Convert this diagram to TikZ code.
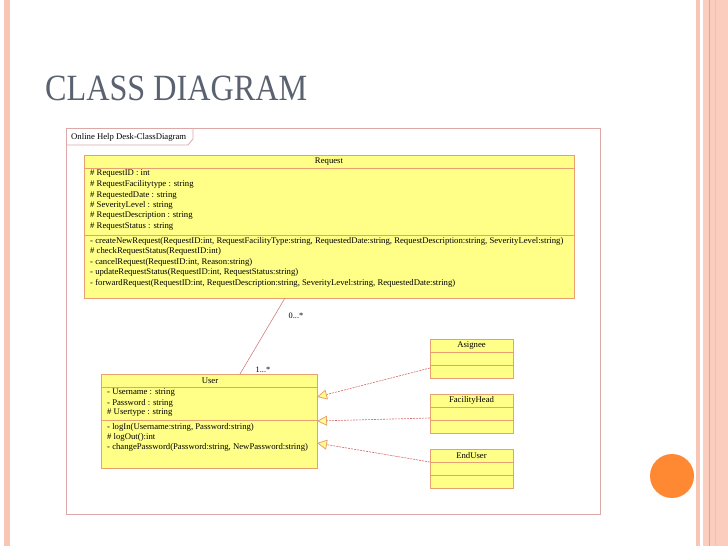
\documentclass[tikz,border=0pt]{standalone}
\usepackage{fontspec}
\setmainfont{Liberation Serif}
\usetikzlibrary{arrows.meta}
\definecolor{umlfill}{HTML}{FFFF88}
\definecolor{umlline}{HTML}{E8A070}
\definecolor{framec}{HTML}{DDA8A8}
\definecolor{assoc}{HTML}{D08080}
\definecolor{dashc}{HTML}{D86868}
\definecolor{stripe}{HTML}{F9C6B6}
\definecolor{stripeb}{HTML}{FBCDBF}
\definecolor{stripeo}{HTML}{F0A080}
\definecolor{titlec}{HTML}{5A6270}
\definecolor{dotc}{HTML}{FF8833}
\tikzset{
  umlbox/.style={draw=umlline, fill=umlfill, line width=0.9pt},
  sep/.style={draw=umlline, line width=0.9pt},
  txt/.style={anchor=west, inner sep=0pt, font=\fontsize{8.7}{9}\selectfont},
  ctxt/.style={anchor=center, inner sep=0pt, font=\fontsize{8.7}{9}\selectfont},
  realize/.style={draw=dashc, dashed, dash pattern=on 2pt off 1pt, line width=0.6pt,
    -{Triangle[open, fill=umlfill, color=umlline, length=10pt, width=10pt, line width=0.8pt]}},
}
\begin{document}
\begin{tikzpicture}[x=1pt,y=-1pt]
\useasboundingbox (0,0) rectangle (728,546);
\fill[white] (0,0) rectangle (728,546);
% stripes
\fill[stripe] (4,0) rectangle (9.5,546);
\fill[stripe] (696,0) rectangle (699.5,546);
\fill[stripeb] (702.5,0) rectangle (728,546);
\fill[stripeo] (708.5,0) rectangle (709.8,546);
\fill[stripe!90!orange] (714.5,0) rectangle (716,546);
% title
\node[anchor=base west, inner sep=0pt, text=titlec, font=\fontsize{37}{40}\selectfont, xscale=0.87] (title) at (45,100) {CLASS DIAGRAM};
% frame
\draw[framec, line width=0.8pt] (66,128) rectangle (600,514);
\draw[framec, line width=0.8pt] (193,128) -- (193,139) -- (188,145) -- (66,145);
\node[anchor=west, inner sep=0pt, font=\fontsize{8.7}{9}\selectfont] (tab) at (71,137) {Online Help Desk-ClassDiagram};
% Request
\draw[umlbox] (84,155) rectangle (574,298);
\coordinate (reqS) at (285,298);
\draw[sep] (84,168) -- (574,168);
\draw[sep] (84,235) -- (574,235);
\node[ctxt] (reqT) at (329,161.5) {Request};
\node[txt] (ra1) at (90,174) {\# RequestID : int};
\node[txt] (ra2) at (90,184.5) {\# RequestFacilitytype : string};
\node[txt] (ra3) at (90,195) {\# RequestedDate : string};
\node[txt] (ra4) at (90,205.5) {\# SeverityLevel : string};
\node[txt] (ra5) at (90,216) {\# RequestDescription : string};
\node[txt] (ra6) at (90,226.5) {\# RequestStatus : string};
\node[txt] (rm1) at (90,241) {- createNewRequest(RequestID:int, RequestFacilityType:string, RequestedDate:string, RequestDescription:string, SeverityLevel:string)};
\node[txt] (rm2) at (90,251.5) {\# checkRequestStatus(RequestID:int)};
\node[txt] (rm3) at (90,262) {- cancelRequest(RequestID:int, Reason:string)};
\node[txt] (rm4) at (90,272.5) {- updateRequestStatus(RequestID:int, RequestStatus:string)};
\node[txt] (rm5) at (90,283) {- forwardRequest(RequestID:int, RequestDescription:string, SeverityLevel:string, RequestedDate:string)};
% User
\draw[umlbox] (101,374) rectangle (317,468);
\coordinate (userN) at (240,374);
\coordinate (userE1) at (317,397);
\coordinate (userE2) at (317,421);
\coordinate (userE3) at (317,443);
\draw[sep] (101,387) -- (317,387);
\draw[sep] (101,420) -- (317,420);
\node[ctxt] (userT) at (210,380.5) {User};
\node[txt] (ua1) at (107,393) {- Username : string};
\node[txt] (ua2) at (107,403) {- Password : string};
\node[txt] (ua3) at (107,413) {\# Usertype : string};
\node[txt] (um1) at (107,427) {- logIn(Username:string, Password:string)};
\node[txt] (um2) at (107,437) {\# logOut():int};
\node[txt] (um3) at (107,447) {- changePassword(Password:string, NewPassword:string)};
% small classes
\draw[umlbox] (430,339) rectangle (513,378);
\draw[sep] (430,352) -- (513,352);
\draw[sep] (430,365) -- (513,365);
\node[ctxt] (asg) at (471.5,345.5) {Asignee};
\coordinate (asgW) at (430,368);
\draw[umlbox] (430,394) rectangle (513,433);
\draw[sep] (430,407) -- (513,407);
\draw[sep] (430,420) -- (513,420);
\node[ctxt] (fh) at (471.5,400.5) {FacilityHead};
\coordinate (fhW) at (430,418);
\draw[umlbox] (430,449) rectangle (513,488);
\draw[sep] (430,462) -- (513,462);
\draw[sep] (430,475) -- (513,475);
\node[ctxt] (eu) at (471.5,455.5) {EndUser};
\coordinate (euW) at (430,462);
% association
\draw[assoc, line width=0.6pt] (reqS) -- (userN);
\node[ctxt, font=\fontsize{8.3}{9}\selectfont] (m1) at (296,316) {0...*};
\node[ctxt, font=\fontsize{8.3}{9}\selectfont] (m2) at (263,369.5) {1...*};
% realizations
\draw[realize] (asgW) -- (userE1);
\draw[realize] (fhW) -- (userE2);
\draw[realize] (euW) -- (userE3);
% dot
\fill[dotc] (672,476) circle (22);
\end{tikzpicture}
\end{document}
